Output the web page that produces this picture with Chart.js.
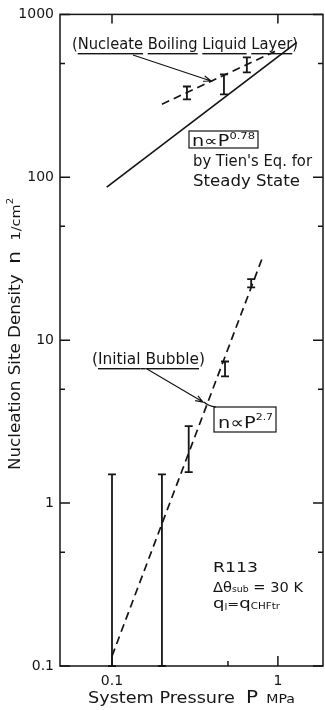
<!DOCTYPE html>
<html>
<head>
<meta charset="utf-8">
<script src="https://cdn.jsdelivr.net/npm/chart.js@4.4.1/dist/chart.umd.min.js"></script>
<style>
  html, body { margin: 0; padding: 0; background: #fff; }
  #wrap { width: 325px; height: 710px; }
</style>
</head>
<body>
<div id="wrap"><canvas id="chart" width="325" height="710"></canvas></div>
<script>
// Nucleation site density vs system pressure, R113

const xTicks = [0.1, 1];
const xTickLabels = ['0.1', '1'];
const yTicks = [0.1, 1, 10, 100, 1000];
const yTickLabels = ['0.1', '1', '10', '100', '1000'];
const xMinor = [0.5];
const yMinor = [0.5, 5, 50, 500];

// n ~ P^0.78, Tien's eq. for steady state (solid)
const tienP = [0.093, 1.3];
const tienN = [87, 673];
// nucleate boiling liquid layer (dashed)
const layerP = [0.2, 0.96];
const layerN = [281, 593];
// initial bubble, n ~ P^2.7 (dashed)
const bubbleP = [0.1, 0.8];
const bubbleN = [0.115, 31.4];

// measured ranges
const layerBarP = [0.283, 0.473, 0.65];
const layerBarLo = [301, 323, 441];
const layerBarHi = [361, 428, 545];
const bubbleBarP = [0.1, 0.2, 0.29, 0.48, 0.69];
const bubbleBarLo = [0.1, 0.1, 1.55, 6.0, 21.1];
const bubbleBarHi = [1.5, 1.5, 2.97, 7.4, 23.7];

const INK = '#151515';
const FONT = '"DejaVu Sans", "Liberation Sans", sans-serif';

const toPts = (xs, ys) => xs.map((x, i) => ({ x: x, y: ys[i] }));

// draw a row of text pieces, squeezed to a given width
function textRuns(ctx, parts, x, y, width) {
  let total = 0;
  for (const p of parts) {
    ctx.font = p.s + 'px ' + FONT;
    p.w = ctx.measureText(p.t).width;
    total += p.w;
  }
  const k = width ? width / total : 1;
  ctx.save();
  ctx.translate(x, y);
  ctx.scale(k, 1);
  ctx.fillStyle = INK;
  ctx.textBaseline = 'alphabetic';
  ctx.textAlign = 'left';
  let cx = 0;
  for (const p of parts) {
    ctx.font = p.s + 'px ' + FONT;
    ctx.fillText(p.t, cx, p.dy || 0);
    if (p.u) ctx.fillRect(cx, 4, p.w, 1.4);
    cx += p.w;
  }
  ctx.restore();
}

function arrow(ctx, x1, y1, x2, y2) {
  ctx.beginPath();
  ctx.moveTo(x1, y1);
  ctx.lineTo(x2, y2);
  const a = Math.atan2(y2 - y1, x2 - x1);
  ctx.moveTo(x2 - 8 * Math.cos(a - 0.35), y2 - 8 * Math.sin(a - 0.35));
  ctx.lineTo(x2, y2);
  ctx.lineTo(x2 - 8 * Math.cos(a + 0.35), y2 - 8 * Math.sin(a + 0.35));
  ctx.stroke();
}

const framePlugin = {
  id: 'frame',
  afterDatasetsDraw(chart) {
    const ctx = chart.ctx;
    const xs = chart.scales.x, ys = chart.scales.y;
    const a = chart.chartArea;
    ctx.save();
    ctx.strokeStyle = INK;
    ctx.fillStyle = INK;

    // box
    ctx.lineWidth = 1.5;
    ctx.strokeRect(a.left, a.top, a.right - a.left, a.bottom - a.top);

    // inward ticks
    ctx.beginPath();
    yTicks.forEach(v => {
      const py = ys.getPixelForValue(v);
      ctx.moveTo(a.left, py); ctx.lineTo(a.left + 10, py);
      ctx.moveTo(a.right, py); ctx.lineTo(a.right - 10, py);
    });
    yMinor.forEach(v => {
      const py = ys.getPixelForValue(v);
      ctx.moveTo(a.left, py); ctx.lineTo(a.left + 5, py);
      ctx.moveTo(a.right, py); ctx.lineTo(a.right - 5, py);
    });
    xTicks.forEach(v => {
      const px = xs.getPixelForValue(v);
      ctx.moveTo(px, a.bottom); ctx.lineTo(px, a.bottom - 10);
      ctx.moveTo(px, a.top); ctx.lineTo(px, a.top + 9);
    });
    xMinor.forEach(v => {
      const px = xs.getPixelForValue(v);
      ctx.moveTo(px, a.bottom); ctx.lineTo(px, a.bottom - 5);
    });
    ctx.stroke();

    // error bars
    ctx.lineWidth = 1.8;
    const bar = (p, lo, hi) => {
      const px = xs.getPixelForValue(p);
      const y1 = ys.getPixelForValue(lo), y2 = ys.getPixelForValue(hi);
      ctx.beginPath();
      ctx.moveTo(px, y1); ctx.lineTo(px, y2);
      ctx.moveTo(px - 4, y1); ctx.lineTo(px + 4, y1);
      ctx.moveTo(px - 4, y2); ctx.lineTo(px + 4, y2);
      ctx.stroke();
    };
    layerBarP.forEach((p, i) => bar(p, layerBarLo[i], layerBarHi[i]));
    bubbleBarP.forEach((p, i) => bar(p, bubbleBarLo[i], bubbleBarHi[i]));

    // annotations
    ctx.lineWidth = 1.2;
    textRuns(ctx, [
      { t: '(', s: 16 }, { t: 'Nucleate', s: 16, u: true }, { t: ' ', s: 16 },
      { t: 'Boiling', s: 16, u: true }, { t: ' ', s: 16 }, { t: 'Liquid', s: 16, u: true },
      { t: ' ', s: 16 }, { t: 'Layer', s: 16, u: true }, { t: ')', s: 16 }
    ], 72, 49, 226);
    arrow(ctx, 133, 55, 211, 81);

    ctx.strokeRect(189, 131, 69, 17);
    textRuns(ctx, [{ t: 'n\u221DP', s: 15 }, { t: '0.78', s: 9, dy: -7 }], 192, 146, 63);
    textRuns(ctx, [{ t: "by Tien's Eq. for", s: 15 }], 193, 166, 119);
    textRuns(ctx, [{ t: 'Steady State', s: 15 }], 193, 186, 107);

    textRuns(ctx, [
      { t: '(', s: 16 }, { t: 'Initial', s: 16, u: true }, { t: ' ', s: 16, u: true },
      { t: 'Bubble', s: 16, u: true }, { t: ')', s: 16 }
    ], 92, 364, 113);
    arrow(ctx, 147, 369, 203, 402);
    ctx.beginPath();
    ctx.moveTo(204, 402);
    ctx.quadraticCurveTo(208, 406, 216, 407);
    ctx.stroke();
    ctx.strokeRect(214, 407, 62, 25);
    textRuns(ctx, [{ t: 'n\u221DP', s: 16 }, { t: '2.7', s: 9, dy: -8 }], 218, 428, 55);

    textRuns(ctx, [{ t: 'R113', s: 14 }], 213, 572, 45);
    textRuns(ctx, [
      { t: '\u0394\u03B8', s: 14 }, { t: 'sub', s: 9 }, { t: ' = 30 K', s: 14 }
    ], 213, 592, 90);
    textRuns(ctx, [
      { t: 'q', s: 14 }, { t: 'l', s: 8, dy: 2 }, { t: '=', s: 11 },
      { t: 'q', s: 14 }, { t: 'CHFtr', s: 8, dy: 1 }
    ], 213, 608, 67);

    // axis titles
    textRuns(ctx, [
      { t: 'System Pressure', s: 15 }, { t: '  ', s: 15 }, { t: 'P', s: 17 },
      { t: '  ', s: 11 }, { t: 'MPa', s: 12 }
    ], 88, 703, 207);
    ctx.save();
    ctx.translate(20, 470);
    ctx.rotate(-Math.PI / 2);
    textRuns(ctx, [
      { t: 'Nucleation Site Density', s: 15 }, { t: '  ', s: 15 }, { t: 'n', s: 18 },
      { t: '  ', s: 15 }, { t: '1/cm', s: 13 }, { t: '2', s: 9, dy: -7 }
    ], 0, 0, 272);
    ctx.restore();

    ctx.restore();
  }
};

const lineStyle = { borderColor: INK, borderWidth: 1.7, pointRadius: 0, tension: 0, fill: false };

new Chart(document.getElementById('chart'), {
  type: 'line',
  data: {
    datasets: [
      Object.assign({ label: 'Tien', data: toPts(tienP, tienN) }, lineStyle),
      Object.assign({ label: 'Liquid layer', data: toPts(layerP, layerN), borderDash: [8, 5] }, lineStyle),
      Object.assign({ label: 'Initial bubble', data: toPts(bubbleP, bubbleN), borderDash: [8, 5] }, lineStyle)
    ]
  },
  options: {
    responsive: false,
    animation: false,
    layout: { padding: { top: 14, right: 2, left: 0, bottom: 0 } },
    plugins: { legend: { display: false }, tooltip: { enabled: false } },
    scales: {
      x: {
        type: 'logarithmic',
        min: 0.0486,
        max: 1.87,
        grid: { display: false, drawTicks: false },
        border: { display: false },
        afterBuildTicks: s => { s.ticks = xTicks.map(v => ({ value: v })); },
        afterFit: s => { s.height = 44; },
        ticks: {
          color: INK, padding: 7, maxRotation: 0, autoSkip: false,
          font: { family: FONT, size: 14 },
          callback: v => xTickLabels[xTicks.indexOf(v)] ?? ''
        }
      },
      y: {
        type: 'logarithmic',
        min: 0.1,
        max: 1000,
        grid: { display: false, drawTicks: false },
        border: { display: false },
        afterBuildTicks: s => { s.ticks = yTicks.map(v => ({ value: v })); },
        afterFit: s => { s.width = 60; },
        ticks: {
          color: INK, padding: 6, autoSkip: false,
          font: { family: FONT, size: 14 },
          callback: v => yTickLabels[yTicks.indexOf(v)] ?? ''
        }
      }
    }
  },
  plugins: [framePlugin]
});
</script>
</body>
</html>
